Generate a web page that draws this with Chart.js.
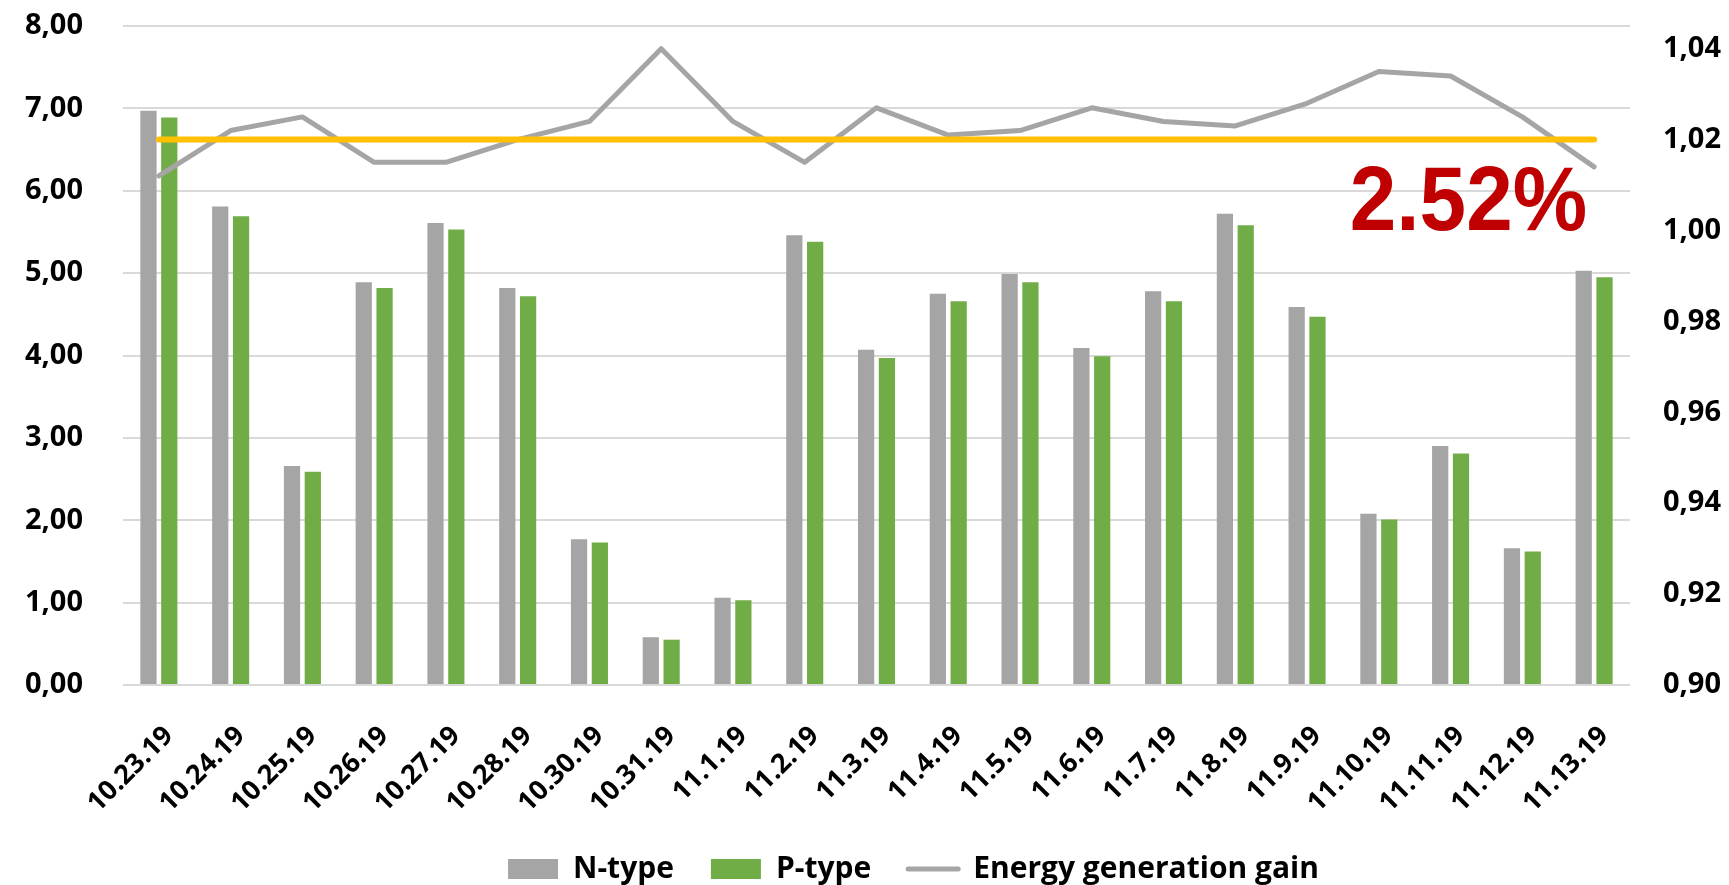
<!DOCTYPE html>
<html>
<head>
<meta charset="utf-8">
<script src="https://cdn.jsdelivr.net/npm/chart.js@4.4.0/dist/chart.umd.min.js"></script>
<style>
    html, body { margin: 0; padding: 0; background: #fff; }
    #wrap { width: 1729px; height: 885px; position: relative; }
</style>
</head>
<body>
<div id="wrap"><canvas id="chartGain"></canvas></div>
<script>
const dates = ["10.23.19", "10.24.19", "10.25.19", "10.26.19", "10.27.19", "10.28.19", "10.30.19",
    "10.31.19", "11.1.19", "11.2.19", "11.3.19", "11.4.19", "11.5.19", "11.6.19", "11.7.19",
    "11.8.19", "11.9.19", "11.10.19", "11.11.19", "11.12.19", "11.13.19"];

const nType = [6.97, 5.81, 2.66, 4.89, 5.61, 4.82, 1.77, 0.58, 1.06, 5.46, 4.07,
    4.75, 4.99, 4.09, 4.78, 5.72, 4.59, 2.08, 2.90, 1.66, 5.03];
const pType = [6.89, 5.69, 2.59, 4.82, 5.53, 4.72, 1.73, 0.55, 1.03, 5.38, 3.97,
    4.66, 4.89, 3.99, 4.66, 5.58, 4.47, 2.01, 2.81, 1.62, 4.95];
const gain = [1.012, 1.022, 1.025, 1.015, 1.015, 1.020, 1.024, 1.040, 1.024, 1.015, 1.027,
    1.021, 1.022, 1.027, 1.024, 1.023, 1.028, 1.035, 1.034, 1.025, 1.014];
const gainAverage = 1.02;

const leftTicks = [0, 1, 2, 3, 4, 5, 6, 7, 8];
const rightTicks = [0.90, 0.92, 0.94, 0.96, 0.98, 1.00, 1.02, 1.04];
const rightTop = 1.045;       // right axis runs a bit past its last tick

const gainText = "2.52%";
const gainTextAt = 5.52;      // left axis value of the text baseline

const fmt = v => Number(v).toFixed(2).replace(".", ",");
const tickFont = { family: "'Open Sans', sans-serif", weight: "bold", size: 29 };

const gainTextPlugin = {
    id: "gainText",
    afterDatasetsDraw(chart) {
        const { ctx, scales } = chart;
        const x = scales.x.getPixelForValue(dates.length - 1) - 7;
        const y = scales.y.getPixelForValue(gainTextAt);
        ctx.save();
        ctx.translate(x, y);
        ctx.scale(0.93, 1);     // the original figure is a little narrower
        ctx.font = "bold 90px 'Liberation Sans', sans-serif";
        ctx.fillStyle = "#C00000";
        ctx.textAlign = "right";
        ctx.textBaseline = "alphabetic";
        ctx.fillText(gainText, 0, 0);
        ctx.restore();
    }
};

// keep the y axes from pushing the plot area down
function noAxisPadding(scale) {
    scale.paddingTop = 0;
    scale.paddingBottom = 0;
}

new Chart(document.getElementById("chartGain"), {
    type: "bar",
    data: {
        labels: dates,
        datasets: [
            {
                label: "N-type",
                data: nType,
                backgroundColor: "#A5A5A5",
                yAxisID: "y",
                order: 2,
                barPercentage: 0.78,
                categoryPercentage: 0.58
            },
            {
                label: "P-type",
                data: pType,
                backgroundColor: "#70AD47",
                yAxisID: "y",
                order: 2,
                barPercentage: 0.78,
                categoryPercentage: 0.58
            },
            {
                type: "line",
                label: "Energy generation gain",
                data: gain,
                borderColor: "#A5A5A5",
                backgroundColor: "#A5A5A5",
                borderWidth: 5,
                borderJoinStyle: "round",
                borderCapStyle: "round",
                pointRadius: 0,
                tension: 0,
                yAxisID: "y1",
                order: 1
            },
            {
                type: "line",
                label: "average",
                data: dates.map(() => gainAverage),
                borderColor: "#FFC000",
                borderWidth: 6,
                borderCapStyle: "round",
                pointRadius: 0,
                yAxisID: "y1",
                order: 0
            }
        ]
    },
    options: {
        responsive: true,
        maintainAspectRatio: false,
        animation: false,
        // negative right padding shifts the centred legend to the right, like the original
        layout: { padding: { top: 26, left: 0, right: -98, bottom: -9 } },
        plugins: {
            tooltip: { enabled: false },
            legend: {
                position: "bottom",
                labels: {
                    usePointStyle: true,
                    pointStyleWidth: 50,
                    boxHeight: 20,
                    padding: 37,
                    color: "#000",
                    font: { family: "'Open Sans', sans-serif", weight: "bold", size: 30 },
                    filter: item => item.text !== "average",
                    sort: (a, b) => a.datasetIndex - b.datasetIndex,
                    generateLabels(chart) {
                        const items = Chart.defaults.plugins.legend.labels.generateLabels(chart);
                        items.forEach(it => {
                            const ds = chart.data.datasets[it.datasetIndex];
                            if (ds.type === "line") {
                                it.pointStyle = "line";
                                it.strokeStyle = ds.borderColor;
                                it.lineWidth = 5;
                                it.lineCap = "round";
                            } else {
                                it.pointStyle = "rect";
                                it.lineWidth = 0;
                            }
                        });
                        return items;
                    }
                }
            }
        },
        scales: {
            x: {
                grid: { display: false, drawTicks: false },
                border: { display: false },
                ticks: {
                    color: "#000",
                    font: { family: "'Open Sans', sans-serif", weight: "bold", size: 27 },
                    minRotation: 45,
                    maxRotation: 45,
                    autoSkip: false,
                    padding: 35,
                    labelOffset: 10
                },
                afterFit(scale) { scale.height = 132; }
            },
            y: {
                position: "left",
                min: 0,
                max: 8,
                grid: { color: "#D9D9D9", lineWidth: 2, drawTicks: false },
                border: { display: false },
                ticks: { color: "#000", font: tickFont, padding: 40, callback: v => fmt(v) },
                afterBuildTicks(scale) { scale.ticks = leftTicks.map(v => ({ value: v })); },
                afterFit(scale) { scale.width = 123; noAxisPadding(scale); }
            },
            y1: {
                position: "right",
                min: rightTicks[0],
                max: rightTop,
                grid: { display: false, drawTicks: false },
                border: { display: false },
                ticks: { color: "#000", font: tickFont, padding: 33, callback: v => fmt(v) },
                afterBuildTicks(scale) { scale.ticks = rightTicks.map(v => ({ value: v })); },
                afterFit(scale) { scale.width = 197; noAxisPadding(scale); }
            }
        }
    },
    plugins: [gainTextPlugin]
});
</script>
</body>
</html>
